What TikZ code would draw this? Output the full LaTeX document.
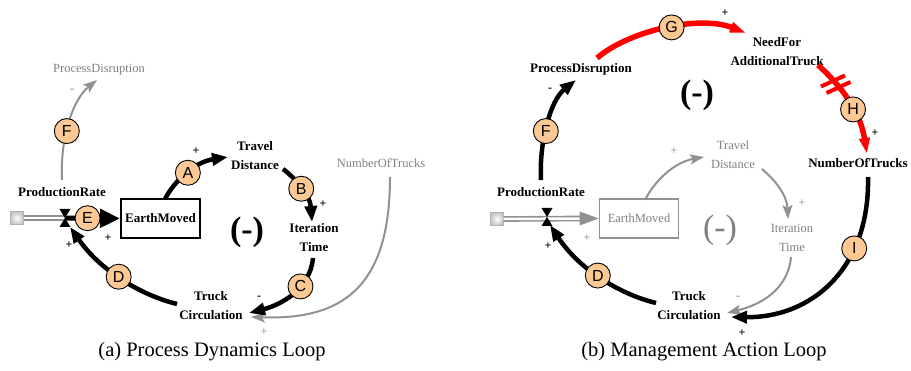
\documentclass[tikz,border=0pt]{standalone}
\usepackage{fontspec}
\setmainfont{Liberation Serif}
\newfontfamily\lettfont{Liberation Sans}
\usetikzlibrary{arrows.meta}
\definecolor{peach}{RGB}{252,200,148}
\definecolor{lgray}{RGB}{145,145,145}
\definecolor{tgray}{RGB}{128,128,128}
\begin{document}
\begin{tikzpicture}[x=1pt,y=-1pt,
 lbl/.style={font=\fontsize{13}{19}\selectfont\bfseries, align=center, inner sep=0},
 glbl/.style={font=\fontsize{12.5}{19}\selectfont, text=tgray, align=center, inner sep=0},
 circ/.style={circle, draw=black, line width=0.9pt, fill=peach, minimum size=25pt, inner sep=0, text=black, font=\lettfont\fontsize{16}{16}\selectfont},
 blk/.style={line width=4.5pt, draw=black, -{Triangle[length=16pt,width=12pt]}},
 gry/.style={line width=2pt, draw=lgray, -{Stealth[length=14pt,width=10pt,inset=3pt]}},
 rd/.style={line width=5.5pt, draw=red, -{Triangle[length=16pt,width=10pt]}},
 sgn/.style={font=\fontsize{12}{12}\selectfont\bfseries, inner sep=0, text=black},
 gsgn/.style={font=\fontsize{12}{12}\selectfont, inner sep=0, text=tgray},
 pipe/.style={draw=lgray, double=white, double distance=2.5pt, line width=1.6pt},
 src/.style={draw=gray!60, inner color=white, outer color=gray!45, minimum size=13pt, inner sep=0},
 bigm/.style={font=\fontsize{34}{34}\selectfont\bfseries, inner sep=0},
 gbigm/.style={font=\fontsize{34}{34}\selectfont, text=tgray, inner sep=0},
 box/.style={draw=black, line width=2pt, minimum width=79pt, minimum height=39pt, inner sep=0, font=\fontsize{13}{19}\selectfont\bfseries},
 gbox/.style={draw=lgray, line width=1.8pt, minimum width=79pt, minimum height=39pt, inner sep=0, text=tgray, font=\fontsize{12.5}{19}\selectfont},
 captxt/.style={font=\fontsize{20.5}{24}\selectfont, inner sep=0}
]
\useasboundingbox (0,0) rectangle (911,371);

% ================= Left panel =================
\node[glbl] (PDa) at (99,70) {ProcessDisruption};
\node[lbl] (PRa) at (62,192) {ProductionRate};
\node[src] (Sa) at (17,218) {};
\coordinate (Va) at (65,218);
\node[box] (EMa) at (160.5,218.5) {EarthMoved};
\node[lbl] (TDa) at (255,155.5) {Travel\\Distance};
\node[lbl] (ITa) at (314,237.5) {Iteration\\Time};
\node[lbl] (TCa) at (211,305.5) {Truck\\Circulation};
\node[glbl] (NTa) at (381,163) {NumberOfTrucks};
\node[bigm] (Ma) at (247,232) {(-)};

\coordinate (fa0) at (62,180); \coordinate (fa1) at (97,80);
\coordinate (aa0) at (165,199); \coordinate (aa1) at (228,157);
\coordinate (ba0) at (283,169); \coordinate (ba1) at (312,222);
\coordinate (ca0) at (313,258); \coordinate (ca1) at (249,313);
\coordinate (da0) at (177,304); \coordinate (da1) at (70,227);
\coordinate (na0) at (390,177); \coordinate (na1) at (251,317);

\draw[pipe] (Sa.east) -- (Va);
\draw[gry] (fa0) .. controls (60,140) and (72,100) .. node[circ,pos=0.42] (Fa) {F} (fa1);
\draw[gry] (na0) .. controls (390,290) and (340,320) .. (na1);
\draw[blk] (aa0) .. controls (175,180) and (195,162) .. node[circ,pos=0.5] (cAa) {A} (aa1);
\draw[blk] (ba0) .. controls (295,178) and (310,195) .. node[circ,pos=0.5] (cBa) {B} (ba1);
\draw[blk] (ca0) .. controls (310,290) and (280,305) .. node[circ,pos=0.36] (cCa) {C} (ca1);
\draw[blk] (da0) .. controls (140,295) and (100,270) .. node[circ,pos=0.52] (cDa) {D} (da1);
\draw[line width=5pt, -{Triangle[length=20pt,width=18pt]}] (Va) -- node[circ,pos=0.41] (cEa) {E} (EMa.west);
\fill (Va) ++(-5.5,-9) -- ++(11,0) -- ++(-5.5,9) -- cycle;
\fill (Va) ++(-5.5,9) -- ++(11,0) -- ++(-5.5,-9) -- cycle;

\node[gsgn] (sFa) at (72,91) {-};
\node[sgn] (sAa) at (196,151) {+};
\node[sgn] (sBa) at (323,204) {+};
\node[sgn] (sCa) at (259,298) {-};
\node[sgn] (sDa) at (69,245) {+};
\node[sgn] (sEa) at (108,238) {+};
\node[gsgn] (sNa) at (264,332) {+};

% ================= Right panel =================
\node[lbl] (PDb) at (581,69) {ProcessDisruption};
\node[lbl] (PRb) at (541,192) {ProductionRate};
\node[src] (Sb) at (497,219) {};
\coordinate (Vb) at (547,217);
\node[gbox] (EMb) at (639,218.5) {EarthMoved};
\node[glbl] (TDb) at (733,155) {Travel\\Distance};
\node[glbl] (ITb) at (792,237.5) {Iteration\\Time};
\node[lbl] (TCb) at (689,305.5) {Truck\\Circulation};
\node[lbl] (NTb) at (858,163) {NumberOfTrucks};
\node[lbl] (NFb) at (777,51.5) {NeedFor\\AdditionalTruck};
\node[bigm] (Mb1) at (697,95) {(-)};
\node[gbigm] (Mb2) at (720,230) {(-)};

\coordinate (fb0) at (541,180); \coordinate (fb1) at (576,80);
\coordinate (gb0) at (597,58); \coordinate (gb1) at (746,33);
\coordinate (hb0) at (818,65); \coordinate (hb1) at (867,154);
\coordinate (ib0) at (868,177); \coordinate (ib1) at (731,317);
\coordinate (db0) at (656,303); \coordinate (db1) at (550,225);
\coordinate (tb0) at (645,200); \coordinate (tb1) at (704,157);
\coordinate (ub0) at (762,169); \coordinate (ub1) at (788,219);
\coordinate (vb0) at (791,257); \coordinate (vb1) at (727,313);
\coordinate (m1) at (833,81); \coordinate (m2) at (838.5,87.5);

\draw[pipe] (Sb.east) -- ([xshift=-18pt]EMb.west);
\fill[lgray] (EMb.west) -- ++(-19,-7) -- ++(0,14) -- cycle;
\draw[gry] (tb0) .. controls (655,180) and (675,162) .. (tb1);
\draw[gry] (ub0) .. controls (775,180) and (787,195) .. (ub1);
\draw[gry] (vb0) .. controls (788,290) and (760,305) .. (vb1);
\draw[blk] (fb0) .. controls (539,140) and (551,100) .. node[circ,pos=0.42] (cFb) {F} (fb1);
\draw[rd] (gb0) .. controls (630,30) and (700,15) .. node[circ,pos=0.53] (cGb) {G} (gb1);
\draw[rd] (hb0) .. controls (840,85) and (860,110) .. node[circ,pos=0.6] (cHb) {H} (hb1);
\draw[red, line width=4pt] ([shift={(-12,5.5)}]m1) -- ([shift={(12,-5.5)}]m1);
\draw[red, line width=4pt] ([shift={(-12,5.5)}]m2) -- ([shift={(12,-5.5)}]m2);
\draw[blk] (ib0) .. controls (870,270) and (810,318) .. node[circ,pos=0.3] (cIb) {I} (ib1);
\draw[blk] (db0) .. controls (619,294) and (579,269) .. node[circ,pos=0.52] (cDb) {D} (db1);
\fill (Vb) ++(-5.5,-9) -- ++(11,0) -- ++(-5.5,9) -- cycle;
\fill (Vb) ++(-5.5,9) -- ++(11,0) -- ++(-5.5,-9) -- cycle;

\node[sgn] (sFb) at (550,90) {-};
\node[sgn] (sGb) at (725,13) {+};
\node[sgn] (sHb) at (875,133) {+};
\node[sgn] (sIb) at (742,333) {+};
\node[sgn] (sDb) at (548,246) {+};
\node[gsgn] (sPb) at (587,238) {+};
\node[gsgn] (sTb) at (674,151) {+};
\node[gsgn] (sUb) at (802,203) {+};
\node[gsgn] (sVb) at (738,298) {-};

% ================= Captions =================
\node[captxt] (capa) at (212,352) {(a) Process Dynamics Loop};
\node[captxt] (capb) at (704,352) {(b) Management Action Loop};
\end{tikzpicture}
\end{document}
